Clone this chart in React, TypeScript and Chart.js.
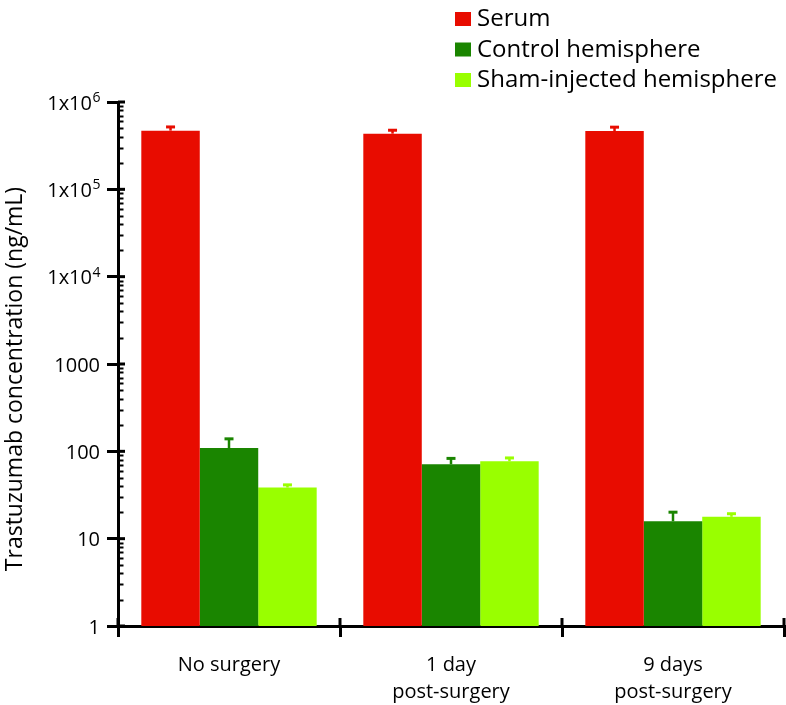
import React, { useEffect, useRef } from "react";
import { Chart, registerables } from "chart.js";

Chart.register(...registerables);

// ---------- data ----------
const categories: (string | string[])[] = ["No surgery", ["1 day", "post-surgery"], ["9 days", "post-surgery"]];
const seriesNames = ["Serum", "Control hemisphere", "Sham-injected hemisphere"];
const serumValues = [470000, 434000, 465000];
const serumErrTop = [518000, 475000, 515000];
const controlValues = [109, 71, 15.8];
const controlErrTop = [139, 83, 20.1];
const shamValues = [38.5, 77, 17.8];
const shamErrTop = [41.3, 84, 19.3];
const seriesColors = ["#e80c00", "#1a8500", "#99ff00"];
const yTickValues = [1, 10, 100, 1000, 10000, 100000, 1000000];
const yTickBase = ["1", "10", "100", "1000", "1x10", "1x10", "1x10"];
const yTickExp = ["", "", "", "", "4", "5", "6"];
const yTitle = "Trastuzumab concentration (ng/mL)";

const FONT = '"Open Sans", "DejaVu Sans", sans-serif';

const errTops = [serumErrTop, controlErrTop, shamErrTop];

const decorPlugin = {
  id: "decor",
  afterDatasetsDraw(chart: any) {
    const ctx = chart.ctx;
    const y = chart.scales.y;
    const x = chart.scales.x;
    const area = chart.chartArea;
    ctx.save();
    // error bars
    chart.data.datasets.forEach((ds: any, di: number) => {
      const meta = chart.getDatasetMeta(di);
      meta.data.forEach((el: any, i: number) => {
        const top = errTops[di][i];
        const yv = y.getPixelForValue(ds.data[i]);
        const ye = y.getPixelForValue(top);
        ctx.strokeStyle = ds.backgroundColor;
        ctx.lineWidth = 2.5;
        ctx.beginPath();
        ctx.moveTo(el.x, yv);
        ctx.lineTo(el.x, ye);
        ctx.stroke();
        ctx.lineWidth = 3;
        ctx.beginPath();
        ctx.moveTo(el.x - 4.5, ye);
        ctx.lineTo(el.x + 4.5, ye);
        ctx.stroke();
      });
    });
    // minor y ticks (inside) and major inner extension
    ctx.strokeStyle = "#000";
    for (let d = 0; d < 6; d++) {
      for (let k = 2; k <= 9; k++) {
        const py = Math.round(y.getPixelForValue(k * Math.pow(10, d))) + 0.5;
        ctx.lineWidth = 2;
        ctx.beginPath();
        ctx.moveTo(area.left, py);
        ctx.lineTo(area.left + 5.5, py);
        ctx.stroke();
      }
    }
    yTickValues.forEach((v) => {
      const py = y.getPixelForValue(v);
      ctx.lineWidth = 3;
      ctx.beginPath();
      ctx.moveTo(area.left, py);
      ctx.lineTo(area.left + 7, py);
      ctx.stroke();
    });
    // y tick labels with superscript exponents
    ctx.fillStyle = "#000";
    ctx.textBaseline = "alphabetic";
    ctx.textAlign = "left";
    yTickValues.forEach((v, i) => {
      const py = y.getPixelForValue(v);
      const right = area.left - 18;
      ctx.font = `20px ${FONT}`;
      const bw = ctx.measureText(yTickBase[i]).width;
      let ew = 0;
      if (yTickExp[i]) {
        ctx.font = `14px ${FONT}`;
        ew = ctx.measureText(yTickExp[i]).width;
      }
      const startX = right - bw - ew;
      ctx.font = `20px ${FONT}`;
      ctx.fillText(yTickBase[i], startX, py + 7.5);
      if (yTickExp[i]) {
        ctx.font = `14px ${FONT}`;
        ctx.fillText(yTickExp[i], startX + bw + 0.5, py);
      }
    });
    // x tick upward extension at category boundaries
    const n = categories.length;
    const step = x.getPixelForValue(1) - x.getPixelForValue(0);
    for (let i = 0; i <= n; i++) {
      const px = i < n ? x.getPixelForValue(i) - step / 2 : area.right;
      ctx.lineWidth = 3;
      ctx.beginPath();
      ctx.moveTo(px, area.bottom);
      ctx.lineTo(px, area.bottom - 8);
      ctx.stroke();
    }
    // y title
    ctx.fillStyle = "#000";
    ctx.font = `23px ${FONT}`;
    ctx.textAlign = "center";
    ctx.textBaseline = "middle";
    ctx.translate(15, 379);
    ctx.rotate(-Math.PI / 2);
    ctx.fillText(yTitle, 0, 0);
    ctx.restore();

    // legend
    ctx.save();
    ctx.font = `24px ${FONT}`;
    ctx.textAlign = "left";
    ctx.textBaseline = "alphabetic";
    chart.data.datasets.forEach((ds: any, di: number) => {
      const base = 26 + di * 30.5;
      ctx.fillStyle = ds.backgroundColor;
      ctx.fillRect(455, base - 14, 16, 14);
      ctx.fillStyle = "#000";
      ctx.fillText(ds.label, 477, base);
    });
    ctx.restore();
  },
};

export default function App() {
  const ref = useRef<HTMLCanvasElement | null>(null);
  useEffect(() => {
    if (!ref.current) return;
    const chart = new Chart(ref.current, {
      type: "bar",
      data: {
        labels: categories as any,
        datasets: [
          { label: seriesNames[0], data: serumValues, backgroundColor: seriesColors[0] },
          { label: seriesNames[1], data: controlValues, backgroundColor: seriesColors[1] },
          { label: seriesNames[2], data: shamValues, backgroundColor: seriesColors[2] },
        ],
      },
      options: {
        animation: false,
        responsive: false,
        maintainAspectRatio: false,
        layout: { padding: { top: 102, right: 2, left: 0, bottom: 0 } },
        datasets: { bar: { barPercentage: 1, categoryPercentage: 0.79 } },
        plugins: { legend: { display: false }, tooltip: { enabled: false } },
        scales: {
          x: {
            offset: true,
            grid: { offset: true, drawOnChartArea: false, drawTicks: true, tickLength: 11, lineWidth: 3, color: "#000" },
            border: { display: true, color: "#000", width: 3 },
            ticks: { color: "#000", font: { family: FONT, size: 20, lineHeight: 1.35 }, padding: 15, maxRotation: 0, autoSkip: false },
            afterFit: (s: any) => { s.height = 79; },
          },
          y: {
            type: "logarithmic",
            min: 1,
            max: 1000000,
            afterBuildTicks: (s: any) => { s.ticks = yTickValues.map((v) => ({ value: v, major: true })); },
            grid: { drawOnChartArea: false, drawTicks: true, tickLength: 11, lineWidth: 3, color: "#000" },
            border: { display: true, color: "#000", width: 3 },
            ticks: { display: false },
            afterFit: (s: any) => { s.width = 118; },
          },
        },
      },
      plugins: [decorPlugin],
    });
    return () => chart.destroy();
  }, []);
  return (
    <div style={{ position: "absolute", left: 0, top: 0, width: 786, height: 705, background: "#fff" }}>
      <canvas ref={ref} width={786} height={705} style={{ width: 786, height: 705 }} />
    </div>
  );
}
